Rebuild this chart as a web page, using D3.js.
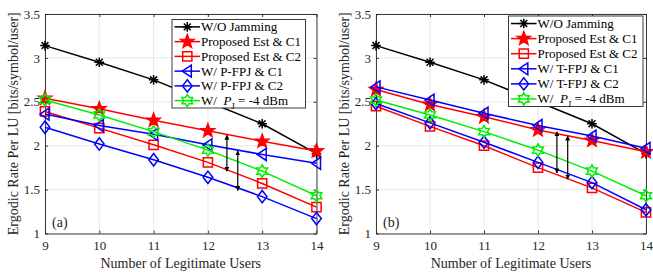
<!DOCTYPE html>
<html>
<head>
<meta charset="utf-8">
<script src="https://cdn.jsdelivr.net/npm/d3@7"></script>
<style>
  html, body { margin: 0; padding: 0; background: #fff; }
  svg { display: block; }
  svg text { font-family: "Liberation Serif", "DejaVu Serif", "Times New Roman", serif; }
</style>
</head>
<body>
<svg id="chart" width="653" height="272"></svg>
<script>
'use strict';

// ---- data ----
var users = [9, 10, 11, 12, 13, 14];
var yTicks = [1, 1.5, 2, 2.5, 3, 3.5];

var woJamming = [3.14, 2.95, 2.75, 2.50, 2.25, 1.91];
var pjMinus4 = [2.52, 2.35, 2.16, 1.95, 1.71, 1.43];

var estC1A = [2.54, 2.42, 2.29, 2.17, 2.05, 1.94];
var estC2A = [2.39, 2.20, 2.01, 1.81, 1.57, 1.30];
var pfpjC1 = [2.36, 2.23, 2.13, 2.01, 1.90, 1.80];
var pfpjC2 = [2.21, 2.02, 1.84, 1.64, 1.42, 1.17];

var estC1B = [2.64, 2.47, 2.33, 2.18, 2.06, 1.93];
var estC2B = [2.45, 2.22, 2.00, 1.75, 1.52, 1.24];
var tfpjC1 = [2.67, 2.52, 2.37, 2.23, 2.11, 1.97];
var tfpjC2 = [2.48, 2.26, 2.04, 1.81, 1.58, 1.27];

var arrowsA = [{ x: 12.35, y1: 2.12, y2: 1.71 }, { x: 12.55, y1: 1.94, y2: 1.49 }];
var arrowsB = [{ x: 12.35, y1: 2.16, y2: 1.69 }, { x: 12.55, y1: 2.11, y2: 1.62 }];

var labelsA = ['W/O Jamming', 'Proposed Est & C1', 'Proposed Est & C2', 'W/ P-FPJ & C1', 'W/ P-FPJ & C2', 'PJ'];
var labelsB = ['W/O Jamming', 'Proposed Est & C1', 'Proposed Est & C2', 'W/ T-FPJ & C1', 'W/ T-FPJ & C2', 'PJ'];

var colors = ['#000000', '#ff0000', '#ff0000', '#0000ff', '#0000ff', '#00ee00'];
var shapes = ['asterisk', 'pentagram', 'square', 'triangleLeft', 'diamond', 'hexagram'];
var fills = ['none', '#ff0000', 'none', 'none', 'none', 'none'];

var SERIF = '"Liberation Serif", "DejaVu Serif", "Times New Roman", serif';

// ---- marker shapes ----
function starPath(n, R, r) {
  var p = d3.path();
  for (var i = 0; i < 2 * n; i++) {
    var a = -Math.PI / 2 + i * Math.PI / n;
    var rr = i % 2 === 0 ? R : r;
    if (i === 0) p.moveTo(rr * Math.cos(a), rr * Math.sin(a));
    else p.lineTo(rr * Math.cos(a), rr * Math.sin(a));
  }
  p.closePath();
  return p.toString();
}

function markerPath(shape) {
  switch (shape) {
    case 'asterisk':
      var s = 4.8, d = s * 0.72;
      return 'M' + (-s) + ',0L' + s + ',0M0,' + (-s) + 'L0,' + s +
        'M' + (-d) + ',' + (-d) + 'L' + d + ',' + d + 'M' + (-d) + ',' + d + 'L' + d + ',' + (-d);
    case 'pentagram': return starPath(5, 7, 2.9);
    case 'square': return 'M-4.6,-4.6L4.6,-4.6L4.6,4.6L-4.6,4.6Z';
    case 'triangleLeft': return 'M-5,0L4,-6L4,6Z';
    case 'diamond': return 'M0,-6.2L4.8,0L0,6.2L-4.8,0Z';
    case 'hexagram': return starPath(6, 6.2, 3.6);
  }
}

var svg = d3.select('#chart');

var defs = svg.append('defs');
defs.append('marker')
  .attr('id', 'ah')
  .attr('viewBox', '0 0 10 10')
  .attr('refX', 9).attr('refY', 5)
  .attr('markerWidth', 5).attr('markerHeight', 5)
  .attr('markerUnits', 'userSpaceOnUse')
  .attr('orient', 'auto-start-reverse')
  .append('path').attr('d', 'M0,0L10,5L0,10Z').attr('fill', '#000');

function drawPanel(cfg) {
  var x = d3.scaleLinear().domain([9, 14]).range([cfg.left, cfg.right]);
  var y = d3.scaleLinear().domain([1, 3.5]).range([233.5, 14]);
  var g = svg.append('g');

  // grid
  g.append('g').selectAll('line').data(users).join('line')
    .attr('x1', function (d) { return x(d); }).attr('x2', function (d) { return x(d); })
    .attr('y1', y(1)).attr('y2', y(3.5))
    .attr('stroke', '#e3e3e3').attr('stroke-width', 0.8);
  g.append('g').selectAll('line').data(yTicks).join('line')
    .attr('y1', function (d) { return y(d); }).attr('y2', function (d) { return y(d); })
    .attr('x1', cfg.left).attr('x2', cfg.right)
    .attr('stroke', '#e3e3e3').attr('stroke-width', 0.8);

  // axes (MATLAB style: ticks inward, box on)
  var axisColor = '#262626';
  var fmt = d3.format('');
  var xa = g.append('g').attr('transform', 'translate(0,' + y(1) + ')')
    .call(d3.axisBottom(x).tickValues(users).tickFormat(fmt).tickSizeInner(-3).tickSizeOuter(0).tickPadding(7));
  var ya = g.append('g').attr('transform', 'translate(' + cfg.left + ',0)')
    .call(d3.axisLeft(y).tickValues(yTicks).tickFormat(fmt).tickSizeInner(-3).tickSizeOuter(0).tickPadding(5));
  var xt = g.append('g').attr('transform', 'translate(0,' + y(3.5) + ')')
    .call(d3.axisTop(x).tickValues(users).tickSizeInner(-3).tickSizeOuter(0).tickFormat(''));
  var yr = g.append('g').attr('transform', 'translate(' + cfg.right + ',0)')
    .call(d3.axisRight(y).tickValues(yTicks).tickSizeInner(-3).tickSizeOuter(0).tickFormat(''));
  [xa, ya, xt, yr].forEach(function (a) {
    a.attr('font-family', SERIF).attr('font-size', 13);
    a.selectAll('path, line').attr('stroke', axisColor).attr('stroke-width', 0.9);
    a.selectAll('text').attr('fill', axisColor);
  });

  // series
  var line = d3.line().x(function (d, i) { return x(users[i]); }).y(function (d) { return y(d); });
  cfg.series.forEach(function (vals, k) {
    g.append('path').datum(vals).attr('d', line)
      .attr('fill', 'none').attr('stroke', colors[k]).attr('stroke-width', 1.5);
    g.append('g').selectAll('path').data(vals).join('path')
      .attr('transform', function (d, i) { return 'translate(' + x(users[i]) + ',' + y(d) + ')'; })
      .attr('d', markerPath(shapes[k]))
      .attr('fill', fills[k]).attr('stroke', colors[k]).attr('stroke-width', 1.5);
  });

  // double-headed arrows
  g.append('g').selectAll('line').data(cfg.arrows).join('line')
    .attr('x1', function (d) { return x(d.x); }).attr('x2', function (d) { return x(d.x); })
    .attr('y1', function (d) { return y(d.y1); }).attr('y2', function (d) { return y(d.y2); })
    .attr('stroke', '#000').attr('stroke-width', 1.2)
    .attr('marker-start', 'url(#ah)').attr('marker-end', 'url(#ah)');

  // panel tag
  g.append('text').attr('x', cfg.left + 7).attr('y', 227)
    .attr('font-family', SERIF).attr('font-size', 14).attr('fill', axisColor).text(cfg.tag);

  // axis titles
  g.append('text').attr('x', (cfg.left + cfg.right) / 2).attr('y', 268)
    .attr('text-anchor', 'middle').attr('font-family', SERIF).attr('font-size', 14).attr('fill', axisColor)
    .text('Number of Legitimate Users');
  g.append('text')
    .attr('transform', 'translate(' + (cfg.left - 27) + ',' + ((233.5 + 14) / 2) + ') rotate(-90)')
    .attr('text-anchor', 'middle').attr('font-family', SERIF).attr('font-size', 14).attr('fill', axisColor)
    .text('Ergodic Rate Per LU [bits/symbol/user]');

  // legend
  var lg = cfg.legend;
  var leg = g.append('g');
  leg.append('rect').attr('x', lg.x0).attr('y', lg.y0)
    .attr('width', lg.x1 - lg.x0).attr('height', lg.y1 - lg.y0)
    .attr('fill', '#fff').attr('stroke', axisColor).attr('stroke-width', 0.9);
  var rowH = (lg.y1 - lg.y0) / cfg.labels.length;
  cfg.labels.forEach(function (lab, k) {
    var cy = lg.y0 + rowH * (k + 0.5);
    var row = leg.append('g');
    row.append('line').attr('x1', lg.x0 + 2.5).attr('x2', lg.x0 + 28)
      .attr('y1', cy).attr('y2', cy).attr('stroke', colors[k]).attr('stroke-width', 1.5);
    row.append('path').attr('transform', 'translate(' + (lg.x0 + 15.3) + ',' + cy + ')')
      .attr('d', markerPath(shapes[k]))
      .attr('fill', fills[k]).attr('stroke', colors[k]).attr('stroke-width', 1.5);
    var t = row.append('text').attr('x', lg.x0 + 29).attr('y', cy + 4.5)
      .attr('font-family', SERIF).attr('font-size', 13).attr('fill', '#000');
    if (lab === 'PJ') {
      t.append('tspan').text('W/\u00a0\u00a0');
      t.append('tspan').attr('font-style', 'italic').text('P');
      t.append('tspan').attr('font-size', 9).attr('dy', 4).text('J');
      t.append('tspan').attr('dy', -4).text('\u00a0= -4 dBm');
    } else {
      t.text(lab);
    }
  });
}

drawPanel({
  left: 45, right: 316.5, tag: '(a)',
  series: [woJamming, estC1A, estC2A, pfpjC1, pfpjC2, pjMinus4],
  labels: labelsA, arrows: arrowsA,
  legend: { x0: 172, x1: 305.5, y0: 19.5, y1: 108 }
});
drawPanel({
  left: 376, right: 646, tag: '(b)',
  series: [woJamming, estC1B, estC2B, tfpjC1, tfpjC2, pjMinus4],
  labels: labelsB, arrows: arrowsB,
  legend: { x0: 508.5, x1: 643, y0: 16, y1: 106.5 }
});
</script>
</body>
</html>
